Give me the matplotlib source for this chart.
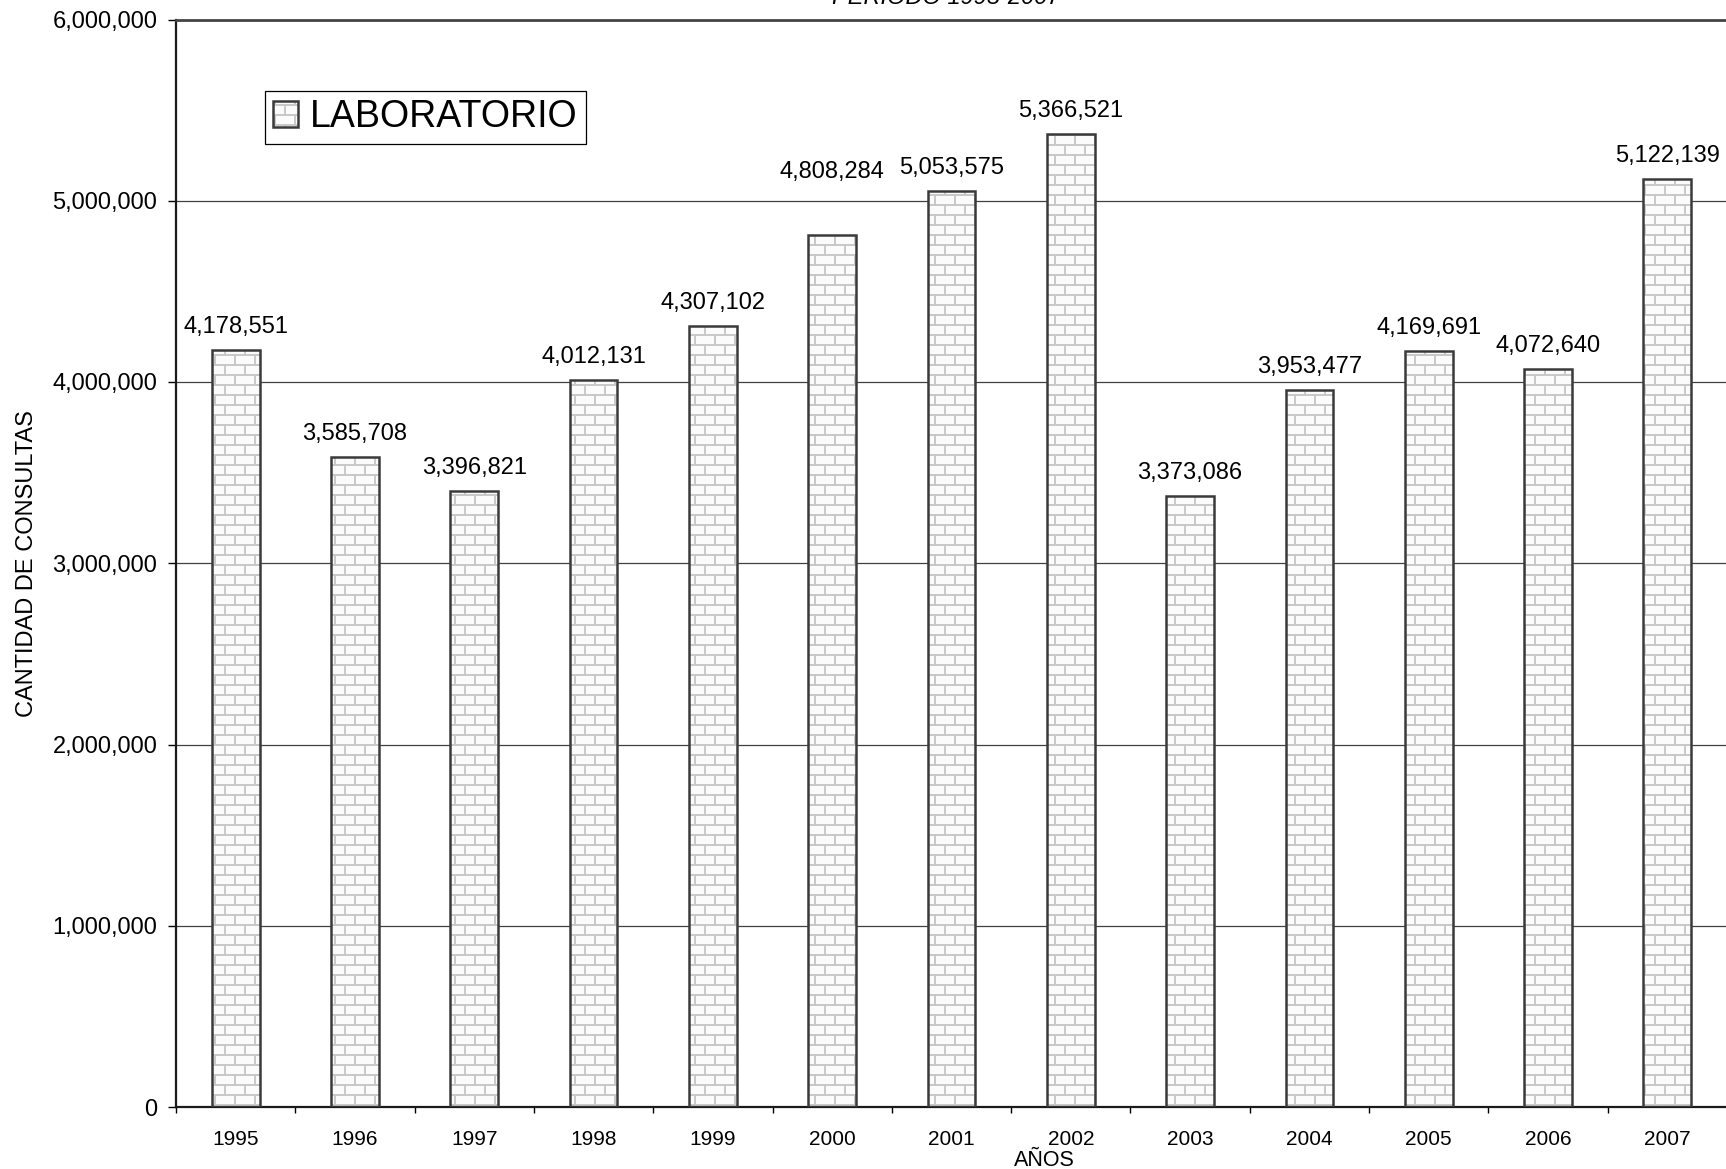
import warnings

import matplotlib
matplotlib.use("Agg")
import matplotlib.pyplot as plt
import matplotlib.hatch as mhatch
from matplotlib.path import Path
from matplotlib.ticker import FuncFormatter, MultipleLocator, FixedLocator

warnings.filterwarnings("ignore")

anios = ["1995", "1996", "1997", "1998", "1999", "2000", "2001",
         "2002", "2003", "2004", "2005", "2006", "2007"]
consultas = [4178551, 3585708, 3396821, 4012131, 4307102, 4808284, 5053575,
             5366521, 3373086, 3953477, 4169691, 4072640, 5122139]
serie = "LABORATORIO"
titulo = "PERIODO 1995-2007"

# extra lift (points) for labels that were nudged up in the original
label_lift = {"2000": 29}


class BrickHatch(mhatch.HatchPatternBase):
    # 'B' in a hatch string -> running-bond brick courses (10 rows x 5 bricks per inch)
    def __init__(self, hatch, density):
        self.rows = 10 if "B" in hatch else 0
        self.cols = 5
        self.num_vertices = (self.rows + self.rows * self.cols + self.cols) * 2 if self.rows else 0

    def set_vertices_and_codes(self, vertices, codes):
        n, m = self.rows, self.cols
        k = 0
        for r in range(n):
            y = (r + 0.5) / n
            vertices[k] = (0.0, y)
            vertices[k + 1] = (1.0, y)
            k += 2
        for r in range(n):
            y0, y1 = (r + 0.5) / n, (r + 1.5) / n
            shift = 0.25 + 0.5 * (r % 2)
            for c in range(m):
                x = (c + shift) / m
                if r == n - 1:
                    vertices[k] = (x, y0)
                    vertices[k + 1] = (x, 1.0)
                    k += 2
                    vertices[k] = (x, 0.0)
                    vertices[k + 1] = (x, y1 - 1.0)
                else:
                    vertices[k] = (x, y0)
                    vertices[k + 1] = (x, y1)
                k += 2
        codes[0::2] = Path.MOVETO
        codes[1::2] = Path.LINETO


mhatch._hatch_types.append(BrickHatch)

plt.rcParams["font.family"] = ["Liberation Sans", "DejaVu Sans"]
plt.rcParams["hatch.linewidth"] = 1.4

W, H = 1726, 1169
fig = plt.figure(figsize=(W / 100, H / 100), dpi=100)
ax = fig.add_axes([176 / W, 1 - 1107 / H, 1551 / W, (1107 - 19.5) / H])

x = list(range(len(anios)))
fondo = ax.bar(x, consultas, width=0.4, color="#fbfbfb", edgecolor="#c8c8c8",
               linewidth=0, hatch="B", zorder=2)
borde = ax.bar(x, consultas, width=0.4, fill=False, edgecolor="#3a3a3a",
               linewidth=1.8, zorder=3)

for xi, anio, v in zip(x, anios, consultas):
    ax.annotate(f"{v:,}", (xi, v), xytext=(0, 12.3 + label_lift.get(anio, 0)),
                textcoords="offset points", ha="center", va="baseline",
                fontsize=17, zorder=4)

ax.set_xlim(-0.5, len(anios) - 0.5)
ax.set_ylim(0, 6000000)
ax.yaxis.set_major_locator(MultipleLocator(1000000))
ax.yaxis.set_major_formatter(FuncFormatter(lambda v, p: f"{v:,.0f}"))
ax.tick_params(axis="y", direction="out", length=6, width=1, pad=7.5,
               labelsize=17, color="black")

ax.set_xticks(x)
ax.set_xticklabels(anios)
ax.xaxis.set_minor_locator(FixedLocator([i - 0.5 for i in range(len(anios) + 1)]))
ax.tick_params(axis="x", which="major", length=0, pad=16.5, labelsize=15)
ax.tick_params(axis="x", which="minor", direction="out", length=4.5, width=1,
               color="black")

ax.yaxis.grid(True, color="#404040", linewidth=0.9)
ax.set_axisbelow(True)

ax.spines["right"].set_visible(False)
ax.spines["top"].set_color("#454545")
ax.spines["top"].set_linewidth(2.0)
ax.spines["left"].set_color("#1a1a1a")
ax.spines["left"].set_linewidth(1.6)
ax.spines["bottom"].set_color("#1a1a1a")
ax.spines["bottom"].set_linewidth(1.6)

ax.set_xlabel("AÑOS", fontsize=15.5)
ax.xaxis.set_label_coords((1044 - 176) / 1551, -0.040)
ax.set_ylabel("CANTIDAD DE CONSULTAS", fontsize=17)
ax.yaxis.set_label_coords(-0.089, 0.5)

fig.text(946 / W, 1 - 4 / H, titulo, style="italic", fontsize=17,
         ha="center", va="baseline")

leg = ax.legend([(fondo[0], borde[0])], [serie], loc="upper left",
                bbox_to_anchor=((265 - 176) / 1551, (1107 - 91) / 1087.5),
                fontsize=27, frameon=True, fancybox=False, framealpha=1,
                edgecolor="black", handlelength=0.67, handleheight=0.67,
                handletextpad=0.3, borderpad=0.22, borderaxespad=0)
leg.get_frame().set_linewidth(0.9)

fig.savefig("out.png", dpi=100)
